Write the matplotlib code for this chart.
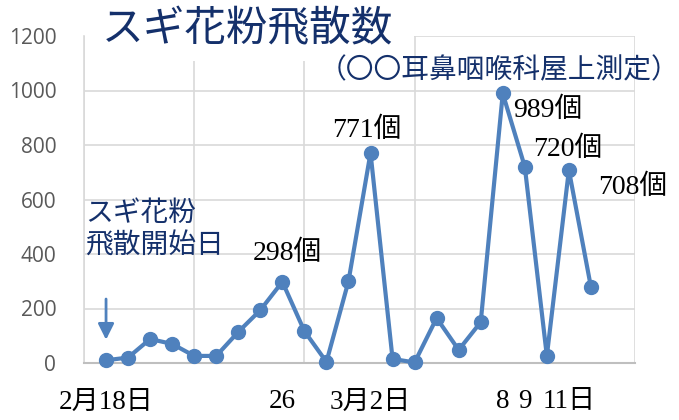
import matplotlib
matplotlib.use('Agg')
import matplotlib.pyplot as plt
from matplotlib.patches import Rectangle

# 2/18 から 3/12 までの毎日の飛散数
days = list(range(1, 24))
counts = [10, 20, 88, 70, 26, 26, 114, 194, 298, 117, 4, 300, 771, 15, 2,
          165, 48, 150, 989, 720, 26, 708, 279]
tick_pos = [1, 9, 13, 19, 20, 22]
tick_labels = ['2月18日', '26', '3月2日', '8', '9', '11日']
yticks = [0, 200, 400, 600, 800, 1000, 1200]

# 個数ラベル (index, text, offset px)
notes = [(8, '298個', (5, 29)),
         (12, '771個', (-4, 23)),
         (18, '989個', (45, -17)),
         (19, '720個', (43, 18)),
         (21, '708個', (64, -17))]

navy = '#14306B'
blue = '#4F81BD'
serif_jp = ['Liberation Serif', 'Noto Sans CJK JP']
sans_jp = ['Noto Sans CJK JP', 'DejaVu Sans']

fig = plt.figure(figsize=(6.79, 4.2), dpi=100)
ax = fig.add_axes([84 / 679, 57 / 420, 551 / 679, 327 / 420])

ax.plot(days, counts, color=blue, lw=3, marker='o', markersize=10,
        zorder=3, clip_on=False)

ax.set_xlim(0, 25)
ax.set_ylim(0, 1200)
ax.set_yticks(yticks)
ax.set_yticklabels([str(v) for v in yticks], family='Open Sans',
                   fontsize=15, color='#595959')
ax.set_xticks(tick_pos)
ax.set_xticklabels(tick_labels, family=serif_jp, fontsize=19.5, color='black')
ax.set_xticks(range(0, 26, 5), minor=True)
ax.tick_params(axis='x', which='both', length=0, pad=19)
ax.tick_params(axis='y', length=0, pad=20)
ax.grid(axis='y', which='major', color='#D9D9D9', lw=1.2)
ax.grid(axis='x', which='minor', color='#D9D9D9', lw=1.2)
ax.set_axisbelow(True)
for s in ['top', 'right']:
    ax.spines[s].set_visible(False)
ax.spines['left'].set_color('#D9D9D9')
ax.spines['left'].set_linewidth(1.2)
ax.spines['bottom'].set_color('#BFBFBF')
ax.spines['bottom'].set_linewidth(1.5)

for i, txt, off in notes:
    ax.annotate(txt, xy=(days[i], counts[i]), xytext=off,
                textcoords='offset pixels', ha='center', va='center',
                family=serif_jp, fontsize=20, color='black')

# 飛散開始日の矢印
ax.annotate('', xy=(days[0], counts[0] + 65), xytext=(days[0], counts[0] + 235),
            arrowprops=dict(arrowstyle='-|>', color=blue, lw=2,
                            mutation_scale=24))
ax.text(0.05, 492, 'スギ花粉\n飛散開始日', ha='left', va='center',
        family=sans_jp, fontsize=20, color=navy, linespacing=1.1)

# タイトル背景(グリッドを隠す)
fig.add_artist(Rectangle((85 / 679, 359 / 420), 329 / 679, 61 / 420,
                         transform=fig.transFigure, facecolor='white',
                         edgecolor='none', zorder=2))
fig.text(248 / 679, 390 / 420, 'スギ花粉飛散数', ha='center', va='center',
         family=sans_jp, fontsize=30, color=navy, zorder=3)
fig.text(499 / 679, 350 / 420, '（〇〇耳鼻咽喉科屋上測定）', ha='center',
         va='center', family=sans_jp, fontsize=20, color=navy, zorder=3)

fig.savefig('out.png', dpi=100)
